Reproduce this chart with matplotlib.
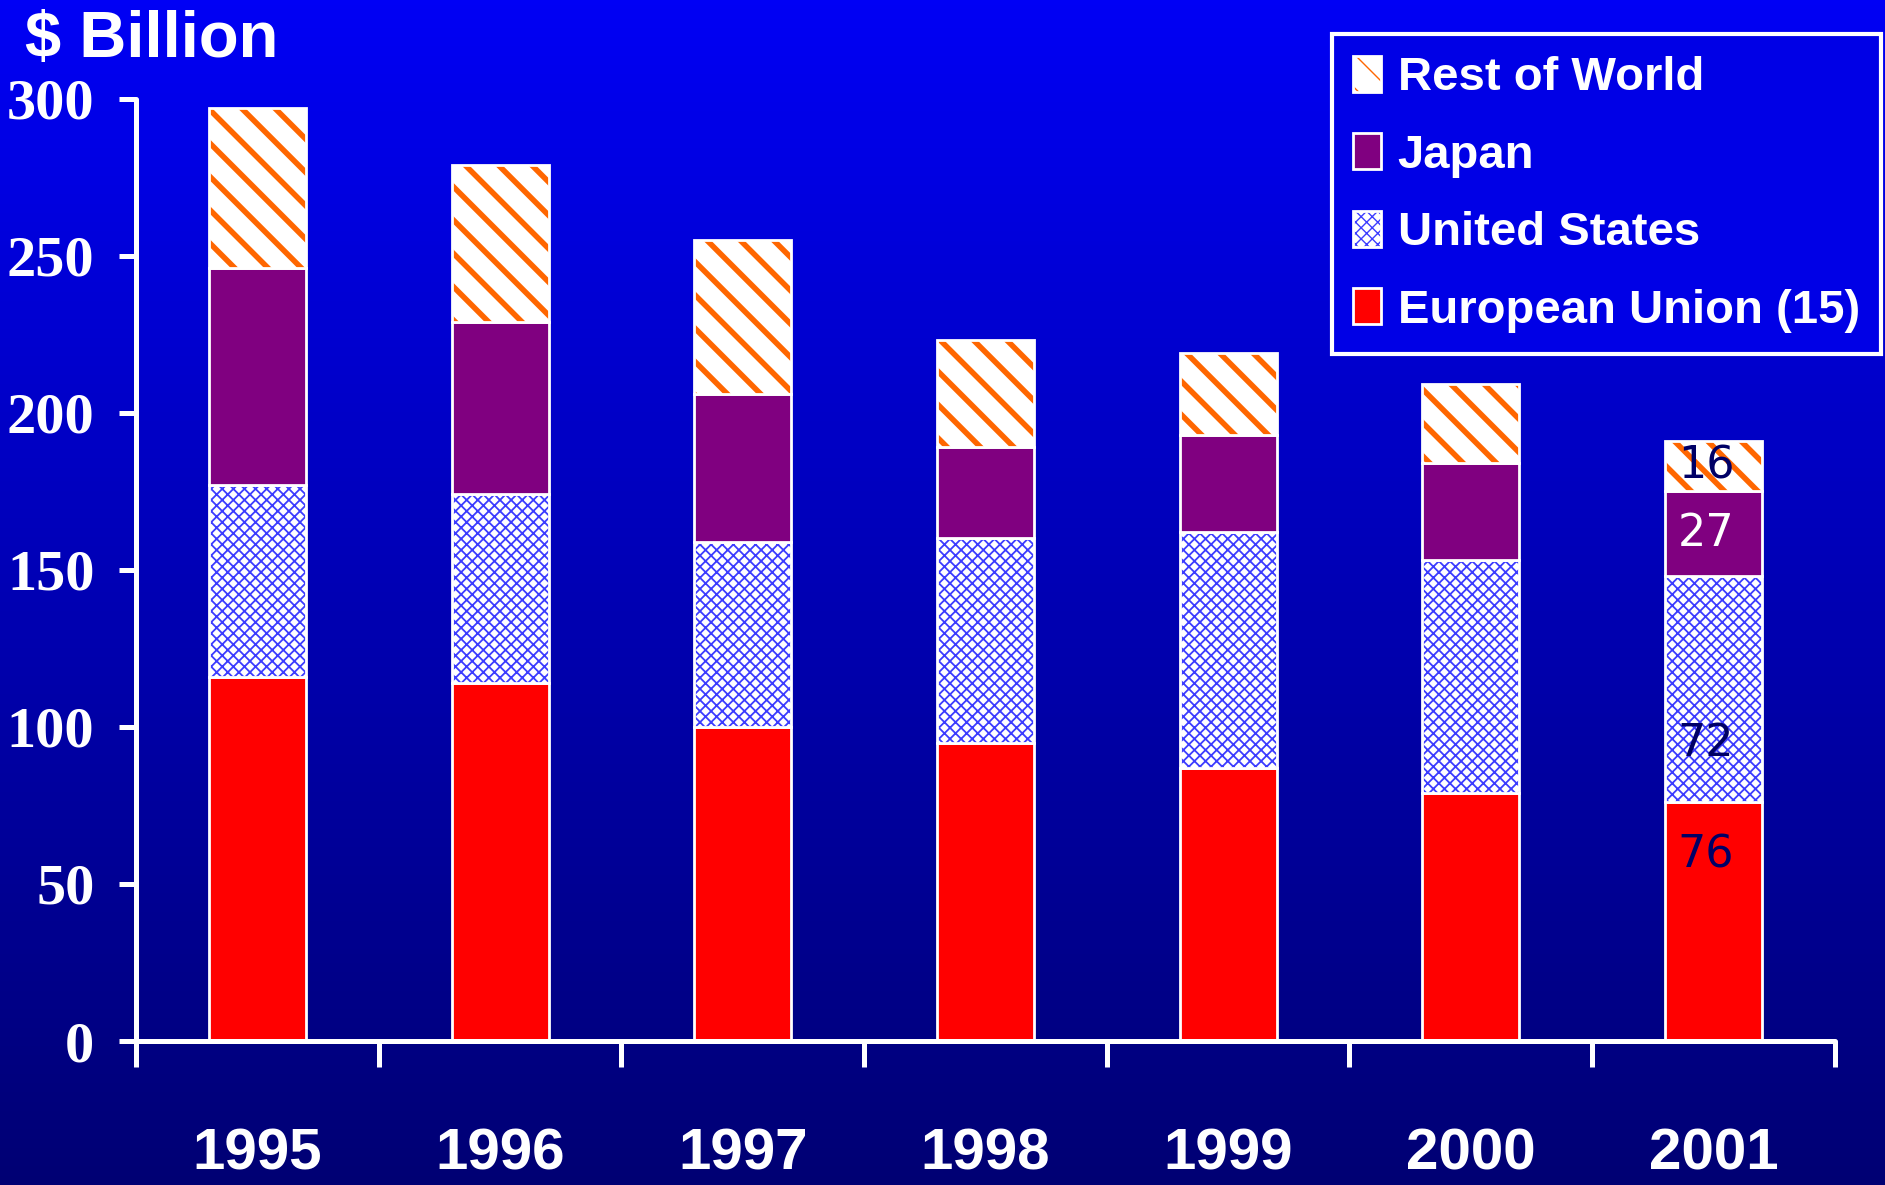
import numpy as np
import matplotlib
matplotlib.use("Agg")
import matplotlib.pyplot as plt
from matplotlib.patches import Patch

years = ["1995", "1996", "1997", "1998", "1999", "2000", "2001"]
eu = [116, 114, 100, 95, 87, 79, 76]
us = [61, 60, 59, 65, 75, 74, 72]
japan = [69, 55, 47, 29, 31, 31, 27]
row = [51, 50, 49, 34, 26, 25, 16]

series_names = ["European Union (15)", "United States", "Japan", "Rest of World"]

# labels written inside the 2001 bar: (series index, text, spot in segment, colour)
labels_2001 = [(0, "76", 0.78, "#000066"), (1, "72", 0.26, "#000066"),
               (2, "27", 0.5, "white"), (3, "16", 0.5, "#000066")]

sans = "Liberation Sans"

fig = plt.figure(figsize=(18.85, 11.85), dpi=100)

# blue gradient background
bg = fig.add_axes([0, 0, 1, 1], zorder=-10)
shade = np.linspace(0, 1, 256)
top = np.array([0, 0, 245]) / 255
bottom = np.array([0, 0, 115]) / 255
grad = top[None, :] * (1 - shade[:, None]) + bottom[None, :] * shade[:, None]
bg.imshow(grad[:, None, :], aspect="auto", extent=[0, 1, 0, 1])
bg.axis("off")

ax = fig.add_axes([0.0722, 0.1215, 0.9011, 0.7953])
ax.patch.set_alpha(0)

x = np.arange(len(years))
w = 0.4

styles = [
    dict(face="#ff0000", hatch=None, hcolor="black", hlw=1.0),
    dict(face="white", hatch="xxx", hcolor="#3c3cff", hlw=1.3),
    dict(face="#800080", hatch=None, hcolor="black", hlw=1.0),
    dict(face="white", hatch="\\", hcolor="#ff6600", hlw=4.0),
]

handles = []
bottom_vals = np.zeros(len(years))
for vals, st, name in zip([eu, us, japan, row], styles, series_names):
    with plt.rc_context({"hatch.color": st["hcolor"], "hatch.linewidth": st["hlw"]}):
        bars = ax.bar(x, vals, w, bottom=bottom_vals, color=st["face"],
                      hatch=st["hatch"], linewidth=0)
        h = Patch(facecolor=st["face"], hatch=st["hatch"], linewidth=0)
    for b in list(bars) + [h]:
        if hasattr(b, "set_hatch_linewidth"):
            b.set_hatch_linewidth(st["hlw"])
    ax.bar(x, vals, w, bottom=bottom_vals, fill=False, edgecolor="white", linewidth=2)
    outline = Patch(fill=False, edgecolor="white", linewidth=2)
    handles.append((h, outline))
    bottom_vals = bottom_vals + np.array(vals)

# numbers inside the last bar
stack = [eu, us, japan, row]
i = len(years) - 1
for k, txt, frac, col in labels_2001:
    base = sum(s[i] for s in stack[:k])
    ax.text(x[i] - 0.03, base + stack[k][i] * frac, txt, ha="center", va="center",
            fontsize=32, color=col, family="DejaVu Sans")

ax.set_xlim(-0.5, len(years) - 0.5)
ax.set_ylim(0, 300)
ax.set_yticks(range(0, 301, 50))
ax.set_yticklabels([str(v) for v in range(0, 301, 50)],
                   family="Liberation Serif", weight="bold", fontsize=42, color="white")
ax.set_xticks(x)
ax.set_xticklabels(years, family=sans, weight="bold", fontsize=42, color="white")
ax.set_xticks(np.arange(-0.5, len(years), 1), minor=True)

for side in ["top", "right"]:
    ax.spines[side].set_visible(False)
for side in ["left", "bottom"]:
    ax.spines[side].set_color("white")
    ax.spines[side].set_linewidth(3.6)
    ax.spines[side].set_capstyle("round")

ax.tick_params(axis="y", colors="white", width=3.6, length=12, pad=18)
ax.tick_params(axis="x", which="major", length=0, pad=62, colors="white")
ax.tick_params(axis="x", which="minor", length=19, width=3.6, color="white")

fig.text(0.0806, 0.966, "$ Billion", ha="center", va="center", fontsize=47,
         weight="bold", color="white", family=sans)

leg = ax.legend(handles[::-1], series_names[::-1], loc="upper right",
                bbox_to_anchor=(0.998, 0.971), bbox_transform=fig.transFigure,
                borderaxespad=0, frameon=True, fancybox=False,
                prop={"family": sans, "weight": "bold", "size": 34},
                handlelength=0.6, handleheight=0.8, handletextpad=0.35,
                labelspacing=0.7, borderpad=0.45)
for t in leg.get_texts():
    t.set_color("white")
frame = leg.get_frame()
frame.set_facecolor("#0000e6")
frame.set_edgecolor("white")
frame.set_linewidth(3)
frame.set_alpha(1)

fig.savefig("out.png", dpi=100)
